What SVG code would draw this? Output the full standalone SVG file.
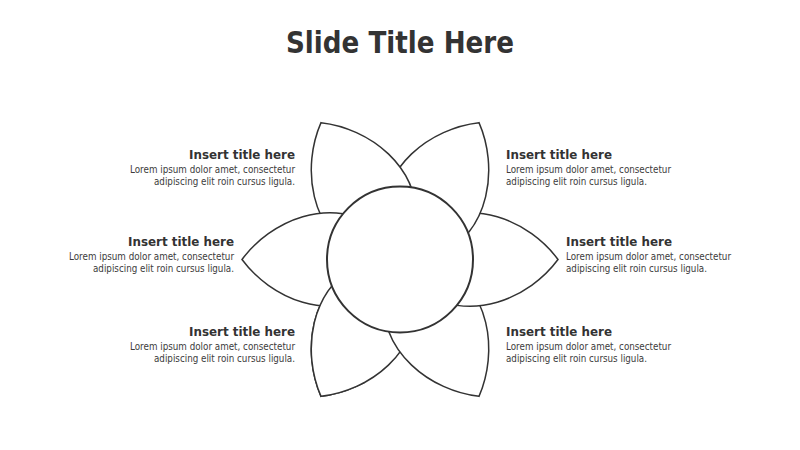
<svg xmlns="http://www.w3.org/2000/svg" xmlns:xlink="http://www.w3.org/1999/xlink" width="800" height="450" viewBox="0 0 800 450">
<style>
.petal{fill:#fff;stroke:#333;stroke-width:1.5;stroke-linejoin:miter}
.core{fill:#fff;stroke:#333;stroke-width:2}
.title{font-family:"DejaVu Sans","Liberation Sans",sans-serif;font-weight:bold;font-size:31px;fill:#333}
.h{font-family:"DejaVu Sans","Liberation Sans",sans-serif;font-weight:bold;font-size:13px;fill:#333}
.b{font-family:"DejaVu Sans","Liberation Sans",sans-serif;font-size:10px;fill:#3c3c3c}
</style>
<defs>
<path id="petal" d="M -158,0 C -130,-38 -70,-66 -20,-30 L -20,30 C -70,66 -130,38 -158,0 Z"/>
<clipPath id="blclip"><rect x="220" y="268" width="145" height="160"/></clipPath>
</defs>
<rect width="800" height="450" fill="#fff"/>
<text class="title" x="400" y="53" text-anchor="middle" textLength="228" lengthAdjust="spacingAndGlyphs">Slide Title Here</text>

<g id="petal-bottom-left">
<use xlink:href="#petal" class="petal" transform="translate(400,259.5) rotate(300)"/>
<text class="h" x="295" y="336" text-anchor="end" textLength="106" lengthAdjust="spacingAndGlyphs">Insert title here</text>
<text class="b" x="295" y="349.5" text-anchor="end" textLength="165" lengthAdjust="spacingAndGlyphs">Lorem ipsum dolor amet, consectetur</text>
<text class="b" x="295" y="362" text-anchor="end" textLength="141" lengthAdjust="spacingAndGlyphs">adipiscing elit roin cursus ligula.</text>
</g>
<g id="petal-bottom-right">
<use xlink:href="#petal" class="petal" transform="translate(400,259.5) rotate(240)"/>
<text class="h" x="506" y="336" textLength="106" lengthAdjust="spacingAndGlyphs">Insert title here</text>
<text class="b" x="506" y="349.5" textLength="165" lengthAdjust="spacingAndGlyphs">Lorem ipsum dolor amet, consectetur</text>
<text class="b" x="506" y="362" textLength="141" lengthAdjust="spacingAndGlyphs">adipiscing elit roin cursus ligula.</text>
</g>
<g id="petal-right">
<use xlink:href="#petal" class="petal" transform="translate(400,259.5) rotate(180)"/>
<text class="h" x="566" y="246" textLength="106" lengthAdjust="spacingAndGlyphs">Insert title here</text>
<text class="b" x="566" y="259.5" textLength="165" lengthAdjust="spacingAndGlyphs">Lorem ipsum dolor amet, consectetur</text>
<text class="b" x="566" y="272" textLength="141" lengthAdjust="spacingAndGlyphs">adipiscing elit roin cursus ligula.</text>
</g>
<g id="petal-top-right">
<use xlink:href="#petal" class="petal" transform="translate(400,259.5) rotate(120)"/>
<text class="h" x="506" y="159" textLength="106" lengthAdjust="spacingAndGlyphs">Insert title here</text>
<text class="b" x="506" y="172.5" textLength="165" lengthAdjust="spacingAndGlyphs">Lorem ipsum dolor amet, consectetur</text>
<text class="b" x="506" y="185" textLength="141" lengthAdjust="spacingAndGlyphs">adipiscing elit roin cursus ligula.</text>
</g>
<g id="petal-top-left">
<use xlink:href="#petal" class="petal" transform="translate(400,259.5) rotate(60)"/>
<text class="h" x="295" y="159" text-anchor="end" textLength="106" lengthAdjust="spacingAndGlyphs">Insert title here</text>
<text class="b" x="295" y="172.5" text-anchor="end" textLength="165" lengthAdjust="spacingAndGlyphs">Lorem ipsum dolor amet, consectetur</text>
<text class="b" x="295" y="185" text-anchor="end" textLength="141" lengthAdjust="spacingAndGlyphs">adipiscing elit roin cursus ligula.</text>
</g>
<g id="petal-left">
<use xlink:href="#petal" class="petal" transform="translate(400,259.5)"/>
<text class="h" x="234" y="246" text-anchor="end" textLength="106" lengthAdjust="spacingAndGlyphs">Insert title here</text>
<text class="b" x="234" y="259.5" text-anchor="end" textLength="165" lengthAdjust="spacingAndGlyphs">Lorem ipsum dolor amet, consectetur</text>
<text class="b" x="234" y="272" text-anchor="end" textLength="141" lengthAdjust="spacingAndGlyphs">adipiscing elit roin cursus ligula.</text>
</g>
<g id="petal-bottom-left-overlap" clip-path="url(#blclip)">
<use xlink:href="#petal" class="petal" transform="translate(400,259.5) rotate(300)"/>
</g>
<g id="center-circle">
<circle class="core" cx="400" cy="259.5" r="73"/>
</g>
</svg>
